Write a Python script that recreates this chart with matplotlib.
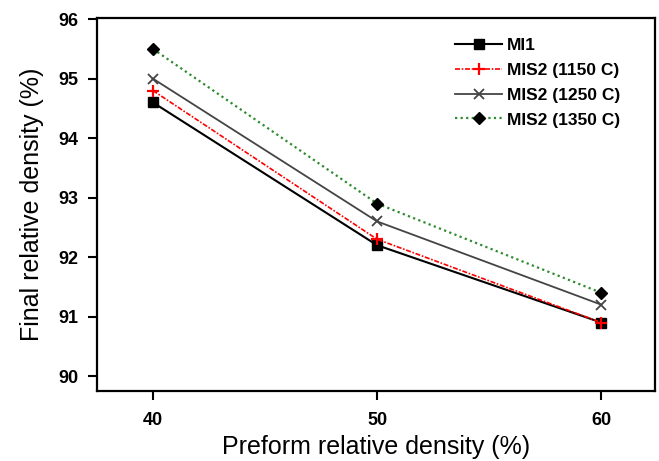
import matplotlib.pyplot as plt

plt.rcParams['font.family'] = ['Liberation Sans', 'DejaVu Sans']

preform = [40, 50, 60]
mi1 = [94.6, 92.2, 90.9]
mis2_1150 = [94.8, 92.3, 90.9]
mis2_1250 = [95.0, 92.6, 91.2]
mis2_1350 = [95.5, 92.9, 91.4]
labels = ['MI1', 'MIS2 (1150 C)', 'MIS2 (1250 C)', 'MIS2 (1350 C)']
yticks = [90, 91, 92, 93, 94, 95, 96]

fig = plt.figure(figsize=(6.59, 4.61), dpi=100)
ax = fig.add_axes([0.147, 0.152, 0.847, 0.809])

ax.plot(preform, mi1, color='black', lw=1.5, marker='s', ms=7,
        label=labels[0])
ax.plot(preform, mis2_1150, color='red', lw=1.2, ls=(0, (3, 1, 1, 1)),
        marker='+', ms=9, mew=1.6, label=labels[1])
ax.plot(preform, mis2_1250, color='#444444', lw=1.3, marker='x', ms=7,
        mew=1.3, label=labels[2])
ax.plot(preform, mis2_1350, color='#2e8b2e', lw=1.6, ls=(0, (1, 1.5)),
        marker='D', ms=6.5, mfc='black', mec='black', label=labels[3])

ax.set_xlim(37.5, 62.4)
ax.set_ylim(89.75, 96.02)
ax.set_xticks(preform, labels=[str(v) for v in preform],
              fontsize=13, fontweight='bold')
ax.set_yticks(yticks, labels=[str(v) for v in yticks],
              fontsize=13, fontweight='bold')
ax.tick_params(direction='out', length=6.5, width=1.5)
ax.tick_params(axis='x', pad=9)
ax.tick_params(axis='y', pad=7)
for sp in ax.spines.values():
    sp.set_linewidth(1.6)

ax.set_xlabel('Preform relative density (%)', fontsize=18, labelpad=4)
ax.set_ylabel('Final relative density (%)', fontsize=18, labelpad=10)

ax.legend(loc='upper left', bbox_to_anchor=(0.680, 0.932),
          bbox_transform=fig.transFigure, frameon=False,
          prop={'weight': 'bold', 'size': 12.5}, handlelength=2.7,
          labelspacing=0.55, handletextpad=0.3, borderaxespad=0)

fig.savefig('out.png', dpi=100)
